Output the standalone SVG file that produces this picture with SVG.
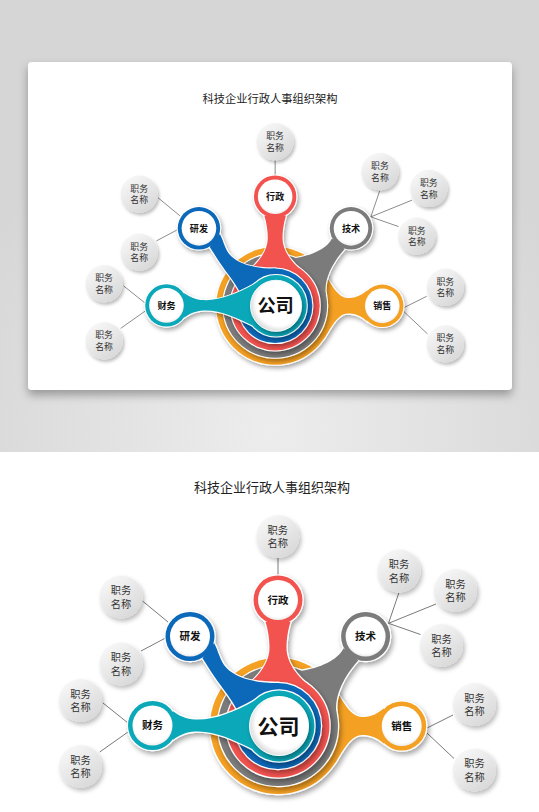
<svg xmlns="http://www.w3.org/2000/svg" xmlns:xlink="http://www.w3.org/1999/xlink" width="539" height="812" viewBox="0 0 539 812">
<style>
.t{font-family:"Noto Sans CJK SC","Noto Sans",sans-serif}
.title{font-size:13px;fill:#222;text-anchor:middle}
.lbl{font-size:10.5px;font-weight:700;fill:#111;text-anchor:middle}
.big{font-size:21px;font-weight:700;fill:#111;text-anchor:middle}
.leaf circle{fill:url(#leafg)}
.leaf text{font-size:10.2px;fill:#333;text-anchor:middle}
.conn line{stroke:#7a7a7a;stroke-width:1}
.ol{stroke:#fff;stroke-width:2.4}
.inner{fill:url(#ng)}
</style>
<defs>
<radialGradient id="bg" cx="270" cy="430" r="340" gradientUnits="userSpaceOnUse"><stop offset="0" stop-color="#ededed"/><stop offset="1" stop-color="#d6d6d6"/></radialGradient>
<linearGradient id="leafg" x1="0.2" y1="0.1" x2="0.8" y2="0.95"><stop offset="0" stop-color="#f6f6f6"/><stop offset="1" stop-color="#d8d8d8"/></linearGradient>
<radialGradient id="wg" cx="0.55" cy="0.45" r="0.55"><stop offset="0.8" stop-color="#fff"/><stop offset="1" stop-color="#dedede"/></radialGradient>
<radialGradient id="ng" cx="0.5" cy="0.45" r="0.55"><stop offset="0.85" stop-color="#fff"/><stop offset="1" stop-color="#ececec"/></radialGradient>
<filter id="sh" x="-30%" y="-30%" width="160%" height="160%"><feDropShadow dx="2" dy="3" stdDeviation="2.5" flood-color="#000" flood-opacity="0.35"/></filter>
<filter id="lsh" x="-30%" y="-30%" width="160%" height="160%"><feDropShadow dx="2" dy="3" stdDeviation="2" flood-color="#000" flood-opacity="0.25"/></filter>
<filter id="csh" x="-10%" y="-10%" width="120%" height="130%"><feDropShadow dx="0" dy="5" stdDeviation="5" flood-color="#000" flood-opacity="0.32"/></filter>
<g id="s-orange"><circle cx="278" cy="726" r="68"/><path d="M384,708.3 C375,716 368,717 362,717 C351,717 344,703 335,689 L300,726 L335,763 C344,749 351,735 362,735 C368,735 375,736 384,743.7 Z"/><circle cx="401.7" cy="726" r="24.5"/></g>
<g id="s-gray"><circle cx="278" cy="726" r="60"/><path d="M343.5,648.2 C338,660 320,668 300,671 L290,700 L336.5,712.8 C334,695 345,675 358.3,660.4 Z"/><circle cx="365.6" cy="636.5" r="24.5"/></g>
<g id="s-red"><circle cx="278" cy="726" r="51.5"/><path d="M265.5,621.7 C268.5,632 269.5,640 269.5,648 C269.5,663 258,677 245.2,687 L310.8,687 C298,677 286.5,663 286.5,648 C286.5,640 287.5,632 290.5,621.7 Z"/><circle cx="278" cy="600" r="24.5"/></g>
<g id="s-blue"><circle cx="278" cy="726" r="43"/><path d="M214.1,643 C218,650 219,657 224,665 C232,676 250,683 278,683 L278,726 L237.6,711.3 C232,699 222,688 214,676 C210,670 207,665 202.5,658.2 Z"/><circle cx="190" cy="636.5" r="24.5"/></g>
<g id="s-teal"><circle cx="279" cy="726" r="35.5"/><path d="M173,711.2 C182,718 190,719.5 198,719.5 C216,719.5 236,711 253.9,700.9 L279,726 L251.8,748.8 C234,740 216,731.5 198,731.5 C190,731.5 182,733 173,739.8 Z"/><circle cx="152.5" cy="725.5" r="24.5"/></g>
</defs>
<rect x="0" y="0" width="539" height="452" fill="url(#bg)"/>
<rect x="0" y="452" width="539" height="360" fill="#fff"/>
<rect id="card" x="28" y="62" width="484" height="328" rx="4" fill="#fff" filter="url(#csh)"/>
<g id="main">
<text class="t title" x="272" y="491.5">科技企业行政人事组织架构</text>
<g id="connectors" class="conn">
<line x1="278" y1="558" x2="278" y2="575"/>
<line x1="142.5" y1="601" x2="168" y2="622"/>
<line x1="141" y1="651" x2="165.5" y2="638"/>
<line x1="103" y1="703" x2="128" y2="723"/>
<line x1="99.7" y1="752" x2="128" y2="732"/>
<line x1="388.5" y1="623.3" x2="398.8" y2="593"/>
<line x1="388.5" y1="623.3" x2="436" y2="604"/>
<line x1="388.5" y1="623.3" x2="420.5" y2="634.5"/>
<line x1="427" y1="728" x2="453" y2="715"/>
<line x1="427" y1="733" x2="454" y2="758.5"/>
</g>
<g id="node-xiaoshou">
<use href="#s-orange" class="ol" fill="#f4a023" filter="url(#sh)"/><use href="#s-orange" fill="#f4a023"/>
<circle class="inner" cx="401.7" cy="726" r="20"/><text class="t lbl" x="401.7" y="729.8">销售</text>
</g>
<g id="node-jishu">
<use href="#s-gray" class="ol" fill="#7b7b7b" filter="url(#sh)"/><use href="#s-gray" fill="#7b7b7b"/>
<circle class="inner" cx="365.6" cy="636.5" r="20"/><text class="t lbl" x="365.6" y="640.3">技术</text>
</g>
<g id="node-xingzheng">
<use href="#s-red" class="ol" fill="#f2534f" filter="url(#sh)"/><use href="#s-red" fill="#f2534f"/>
<circle class="inner" cx="278" cy="600" r="20"/><text class="t lbl" x="278" y="603.8">行政</text>
</g>
<g id="node-yanfa">
<use href="#s-blue" class="ol" fill="#0c68b9" filter="url(#sh)"/><use href="#s-blue" fill="#0c68b9"/>
<circle class="inner" cx="190" cy="636.5" r="20"/><text class="t lbl" x="190" y="640.3">研发</text>
</g>
<g id="node-caiwu">
<use href="#s-teal" class="ol" fill="#0aa8b8" filter="url(#sh)"/><use href="#s-teal" fill="#0aa8b8"/>
<circle class="inner" cx="152.5" cy="725.5" r="20"/><text class="t lbl" x="152.5" y="729.3">财务</text>
</g>
<g id="node-gongsi">
<circle cx="279" cy="726" r="29.5" fill="url(#wg)" stroke="#fff" stroke-width="1" filter="url(#sh)"/>
<text class="t big" x="278.5" y="733.5">公司</text>
</g>
<g id="leaf-1" class="leaf t"><circle cx="277.8" cy="536.5" r="21.5" filter="url(#lsh)"/><text x="277.8" y="533.6">职务</text><text x="277.8" y="547">名称</text></g>
<g id="leaf-2" class="leaf t"><circle cx="121" cy="597" r="21.5" filter="url(#lsh)"/><text x="121" y="594.1">职务</text><text x="121" y="607.5">名称</text></g>
<g id="leaf-3" class="leaf t"><circle cx="121" cy="664" r="21.5" filter="url(#lsh)"/><text x="121" y="661.1">职务</text><text x="121" y="674.5">名称</text></g>
<g id="leaf-4" class="leaf t"><circle cx="80.5" cy="700.5" r="21.5" filter="url(#lsh)"/><text x="80.5" y="697.6">职务</text><text x="80.5" y="711">名称</text></g>
<g id="leaf-5" class="leaf t"><circle cx="80.5" cy="766.5" r="21.5" filter="url(#lsh)"/><text x="80.5" y="763.6">职务</text><text x="80.5" y="777">名称</text></g>
<g id="leaf-6" class="leaf t"><circle cx="399" cy="571" r="21.5" filter="url(#lsh)"/><text x="399" y="568.1">职务</text><text x="399" y="581.5">名称</text></g>
<g id="leaf-7" class="leaf t"><circle cx="455.5" cy="590.5" r="21.5" filter="url(#lsh)"/><text x="455.5" y="587.6">职务</text><text x="455.5" y="601">名称</text></g>
<g id="leaf-8" class="leaf t"><circle cx="441.5" cy="645.5" r="21.5" filter="url(#lsh)"/><text x="441.5" y="642.6">职务</text><text x="441.5" y="656">名称</text></g>
<g id="leaf-9" class="leaf t"><circle cx="474.5" cy="704.5" r="21.5" filter="url(#lsh)"/><text x="474.5" y="701.6">职务</text><text x="474.5" y="715">名称</text></g>
<g id="leaf-10" class="leaf t"><circle cx="474.5" cy="770" r="21.5" filter="url(#lsh)"/><text x="474.5" y="767.1">职务</text><text x="474.5" y="780.5">名称</text></g>
</g>
<use id="card-diagram" href="#main" transform="translate(34.4,-322.9) scale(0.866)"/>
</svg>
